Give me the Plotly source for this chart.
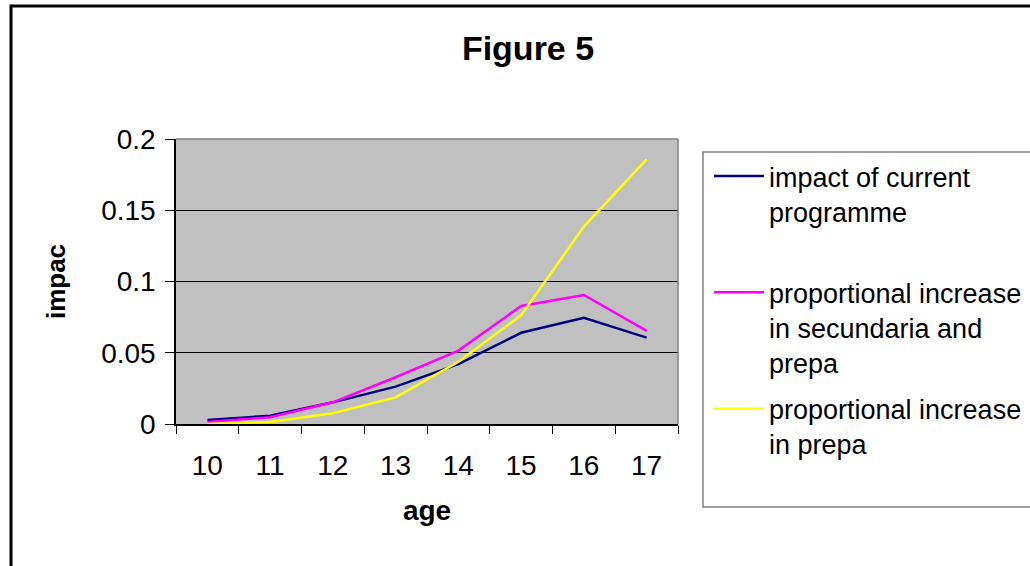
import plotly.graph_objects as go

# Ages on the horizontal axis
ages = ["10", "11", "12", "13", "14", "15", "16", "17"]

# Estimated impact by age for each scenario
impact_current = [0.0028, 0.0058, 0.0152, 0.0262, 0.0420, 0.0640, 0.0746, 0.0606]
increase_sec_prepa = [0.0014, 0.0047, 0.0152, 0.0328, 0.0515, 0.0828, 0.0905, 0.0653]
increase_prepa = [0.0000, 0.0014, 0.0075, 0.0187, 0.0437, 0.0763, 0.1385, 0.1857]

series_names = [
    "impact of current<br>programme<br> ",
    "proportional increase<br>in secundaria and<br>prepa",
    "proportional increase<br>in prepa",
]
series_colors = ["#000080", "#FF00FF", "#FFFF00"]

W, H = 1030, 566
L, R, T, B = 176, 352, 139, 142
PW, PH = W - L - R, H - T - B


def px(x):
    return (x - L) / PW


def py(y):
    return (H - B - y) / PH


FONT = "Liberation Sans, Arial, sans-serif"

fig = go.Figure()
for i, (name, vals, col) in enumerate(zip(series_names, [impact_current, increase_sec_prepa, increase_prepa], series_colors)):
    fig.add_trace(go.Scatter(
        x=ages, y=vals, name=name, mode="lines", legendgroup=f"g{i}",
        line=dict(color=col, width=2.5),
    ))

fig.update_layout(
    width=W, height=H,
    margin=dict(l=L, r=R, t=T, b=B, pad=0, autoexpand=False),
    paper_bgcolor="white",
    plot_bgcolor="#C0C0C0",
    font=dict(family=FONT, color="black", size=28),
    title=dict(
        text="<b>Figure 5</b>", x=px(528), xref="paper", xanchor="center",
        y=1 - 48 / H, yref="container", yanchor="middle",
        font=dict(size=34, family=FONT, color="black"),
    ),
    showlegend=True,
    legend=dict(
        x=709 / W, xref="container", xanchor="left",
        y=1 - 152 / H, yref="container", yanchor="top",
        bgcolor="rgba(0,0,0,0)", borderwidth=0,
        font=dict(size=27, family=FONT, color="black"),
        valign="top", itemwidth=50, tracegroupgap=8,
        maxheight=1.0,
    ),
    xaxis=dict(
        type="category", range=[-0.5, 7.5],
        showgrid=False, zeroline=False,
        showline=True, linecolor="black", linewidth=1.5,
        ticks="outside", tickson="boundaries", ticklen=8, tickcolor="black", tickwidth=1,
        tickfont=dict(size=28, family=FONT), ticklabelstandoff=16,
        title=dict(text="<b>age</b>", font=dict(size=28, family=FONT), standoff=20),
        mirror=False,
    ),
    yaxis=dict(
        range=[0, 0.2], dtick=0.05, tick0=0,
        showgrid=True, gridcolor="black", gridwidth=1,
        zeroline=False,
        showline=True, linecolor="black", linewidth=1.5,
        ticks="outside", ticklen=9, tickcolor="black", tickwidth=1,
        tickfont=dict(size=28, family=FONT), ticklabelstandoff=4,
        title=dict(text="<b>impac</b>", font=dict(size=26, family=FONT), standoff=28),
    ),
    shapes=[
        # plot area frame on top and right
        dict(type="line", xref="paper", yref="paper", x0=0, x1=1, y0=1, y1=1,
             line=dict(color="#808080", width=1.5)),
        dict(type="line", xref="paper", yref="paper", x0=1, x1=1, y0=0, y1=1,
             line=dict(color="#808080", width=1.5)),
        # legend frame
        dict(type="rect", xref="paper", yref="paper",
             x0=px(703), x1=px(1040), y0=py(507), y1=py(152),
             line=dict(color="#808080", width=1.5), fillcolor="rgba(0,0,0,0)"),
        # outer chart border
        dict(type="rect", xref="paper", yref="paper",
             x0=px(11), x1=px(1050), y0=py(580), y1=py(6),
             line=dict(color="black", width=3), fillcolor="rgba(0,0,0,0)"),
    ],
)

fig.write_html("out.html")
